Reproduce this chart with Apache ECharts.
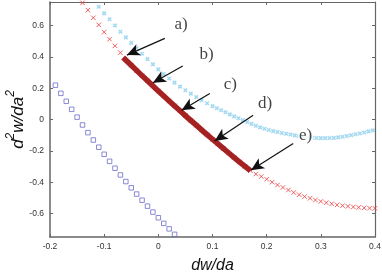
<!DOCTYPE html>
<html><head><meta charset="utf-8">
<script src="https://cdn.jsdelivr.net/npm/echarts@6/dist/echarts.min.js"></script>
<style>html,body{margin:0;padding:0;background:#fff}#c{width:382px;height:273px}</style>
</head><body><div id="c"></div>
<script>
// Blue open squares
const blueX = [-0.19,-0.18,-0.17,-0.16,-0.15,-0.14,-0.13,-0.12,-0.11,-0.10,-0.09,-0.08,-0.07,-0.06,-0.05,-0.04,-0.03,-0.02,-0.01,0.00,0.01,0.02,0.03];
const blueY = [0.219,0.167,0.116,0.065,0.015,-0.035,-0.084,-0.131,-0.177,-0.222,-0.267,-0.311,-0.354,-0.396,-0.436,-0.476,-0.515,-0.553,-0.591,-0.627,-0.663,-0.698,-0.733];

// Red crosses
const redX = [-0.14,-0.13,-0.12,-0.11,-0.10,-0.09,-0.08,-0.07,-0.06,-0.05,-0.04,-0.03,-0.02,-0.01,0.00,0.01,0.02,0.03,0.04,0.05,0.06,0.07,0.08,0.09,0.10,0.11,0.12,0.13,0.14,0.15,0.16,0.17,0.18,0.19,0.20,0.21,0.22,0.23,0.24,0.25,0.26,0.27,0.28,0.29,0.30,0.31,0.32,0.33,0.34,0.35,0.36,0.37,0.38,0.39,0.40];
const redY = [0.745,0.698,0.649,0.604,0.558,0.513,0.470,0.426,0.380,0.346,0.312,0.279,0.247,0.214,0.182,0.150,0.118,0.087,0.056,0.025,-0.006,-0.036,-0.067,-0.097,-0.126,-0.156,-0.185,-0.214,-0.242,-0.271,-0.299,-0.327,-0.348,-0.364,-0.381,-0.400,-0.418,-0.434,-0.450,-0.466,-0.480,-0.492,-0.503,-0.514,-0.523,-0.531,-0.538,-0.545,-0.550,-0.554,-0.558,-0.561,-0.564,-0.566,-0.567];

// Light blue crosses
const cyanX = [-0.11,-0.10,-0.09,-0.08,-0.07,-0.06,-0.05,-0.04,-0.03,-0.02,-0.01,0.00,0.01,0.02,0.03,0.04,0.05,0.06,0.07,0.08,0.09,0.10,
  0.108,0.116,0.124,0.132,0.140,0.148,0.156,0.164,0.172,0.180,0.188,0.196,0.204,0.212,0.220,0.228,0.236,0.244,0.252,0.260,0.268,0.276,0.284,0.292,0.300,0.308,0.316,0.324,0.332,0.340,0.348,0.356,0.364,0.372,0.380,0.388,0.396,0.404];
const cyanY = [0.720,0.677,0.640,0.600,0.560,0.524,0.489,0.455,0.420,0.385,0.352,0.320,0.290,0.262,0.235,0.210,0.187,0.165,0.143,0.123,0.104,0.085,
  0.072,0.059,0.046,0.033,0.020,0.008,-0.004,-0.016,-0.028,-0.040,-0.050,-0.059,-0.067,-0.074,-0.080,-0.086,-0.091,-0.096,-0.101,-0.106,-0.110,-0.113,-0.116,-0.118,-0.119,-0.119,-0.118,-0.117,-0.114,-0.110,-0.105,-0.100,-0.094,-0.089,-0.083,-0.076,-0.069,-0.062];

// Thick highlighted segment
const thickX = [-0.065,-0.05,-0.035,-0.02,-0.005,0.01,0.025,0.04,0.055,0.07,0.085,0.10,0.115,0.13,0.145,0.16,0.170];
const thickY = [0.396,0.346,0.296,0.247,0.198,0.150,0.102,0.056,0.009,-0.036,-0.082,-0.126,-0.170,-0.214,-0.257,-0.299,-0.327];

// Annotations
const labelNames = ['a)','b)','c)','d)','e)'];
const labelX = [0.042,0.089,0.133,0.197,0.272];
const labelY = [0.603,0.417,0.226,0.101,-0.100];
const arrowStartX = [0.012,0.045,0.095,0.175,0.249];
const arrowStartY = [0.518,0.341,0.166,0.027,-0.153];
const arrowTipX = [-0.058,-0.010,0.043,0.104,0.171];
const arrowTipY = [0.411,0.234,0.059,-0.137,-0.324];

const yTicks = [-0.6,-0.4,-0.2,0,0.2,0.4,0.6];

const zip = (a,b) => a.map((v,i)=>[v,b[i]]);
const axisCol = '#666';
const tickFont = {fontFamily:'Liberation Sans, Arial', fontSize:8.5, color:'#333'};

const chart = echarts.init(document.getElementById('c'), null, {renderer:'canvas'});
chart.setOption({
  animation:false,
  backgroundColor:'#fff',
  grid:{left:50,right:7,top:2,bottom:36,containLabel:false,outerBoundsMode:'none'},
  xAxis:[{
    type:'value',min:-0.2,max:0.4,interval:0.1,position:'bottom',
    axisLine:{show:true,onZero:false,lineStyle:{color:axisCol,width:1.5}},
    axisTick:{show:true,inside:true,length:3,lineStyle:{color:axisCol}},
    axisLabel:Object.assign({margin:5},tickFont),
    splitLine:{show:false},
    name:'dw/da',nameLocation:'middle',nameGap:21,nameMoveOverlap:false,
    nameTextStyle:{fontFamily:'Liberation Sans, Arial',fontStyle:'italic',fontSize:16,color:'#111'}
  },{
    type:'value',min:-0.2,max:0.4,interval:0.1,position:'top',
    axisLine:{show:true,onZero:false,lineStyle:{color:axisCol,width:1.2}},
    axisTick:{show:true,inside:true,length:3,lineStyle:{color:axisCol}},
    axisLabel:{show:false},splitLine:{show:false}
  }],
  yAxis:[{
    type:'value',min:-0.75,max:0.75,position:'left',
    axisLine:{show:true,onZero:false,lineStyle:{color:axisCol,width:1.5}},
    axisTick:{show:true,inside:true,length:3,lineStyle:{color:axisCol},customValues:yTicks},
    axisLabel:Object.assign({margin:6,customValues:yTicks},tickFont),
    splitLine:{show:false},
    name:'{a|d}{s|2}{a|w/da}{s|2}',nameLocation:'middle',nameRotate:90,nameGap:23,nameMoveOverlap:false,
    nameTextStyle:{fontFamily:'Liberation Sans, Arial',fontStyle:'italic',fontSize:17,color:'#111',
      rich:{a:{fontFamily:'Liberation Sans, Arial',fontStyle:'italic',fontSize:17,color:'#111',lineHeight:22,verticalAlign:'bottom'},
            s:{fontFamily:'Liberation Sans, Arial',fontStyle:'italic',fontSize:12,color:'#111',lineHeight:22,verticalAlign:'top'}}}
  },{
    type:'value',min:-0.75,max:0.75,position:'right',
    axisLine:{show:true,onZero:false,lineStyle:{color:axisCol,width:1.2}},
    axisTick:{show:true,inside:true,length:3,lineStyle:{color:axisCol},customValues:yTicks},
    axisLabel:{show:false},splitLine:{show:false}
  }],
  series:[
    {type:'scatter',data:zip(blueX,blueY),symbol:'rect',symbolSize:4.5,
     itemStyle:{color:'transparent',borderColor:'#6d6dc9',borderWidth:1},z:2},
    {type:'scatter',data:zip(redX,redY),symbol:'path://M0 0L10 10M10 0L0 10',symbolSize:4.5,
     itemStyle:{color:'transparent',borderColor:'#ef3b3b',borderWidth:1},z:2},
    {type:'scatter',data:zip(cyanX,cyanY),symbol:'path://M0 0L10 10M10 0L0 10',symbolSize:3.5,
     itemStyle:{color:'transparent',borderColor:'#8dd0ee',borderWidth:1.6},z:3},
    {type:'line',data:zip(thickX,thickY),symbol:'none',smooth:false,
     lineStyle:{color:'#a52222',width:5.5,cap:'butt',join:'round'},z:4,
     markLine:{silent:true,symbol:['none','arrow'],symbolSize:[9,13],label:{show:false},
       lineStyle:{color:'#111',width:1.2,type:'solid'},
       data:arrowStartX.map((v,i)=>[{coord:[v,arrowStartY[i]]},{coord:[arrowTipX[i],arrowTipY[i]]}])}},
    {type:'scatter',data:labelNames.map((n,i)=>({name:n,value:[labelX[i],labelY[i]]})),
     symbol:'circle',symbolSize:1,itemStyle:{color:'transparent'},z:6,
     label:{show:true,position:'inside',formatter:p=>p.name,fontFamily:'Liberation Serif, Times New Roman, serif',
       fontSize:17,color:'#111',backgroundColor:'#fff',padding:[0,1,0,1]}}
  ]
});
</script></body></html>
